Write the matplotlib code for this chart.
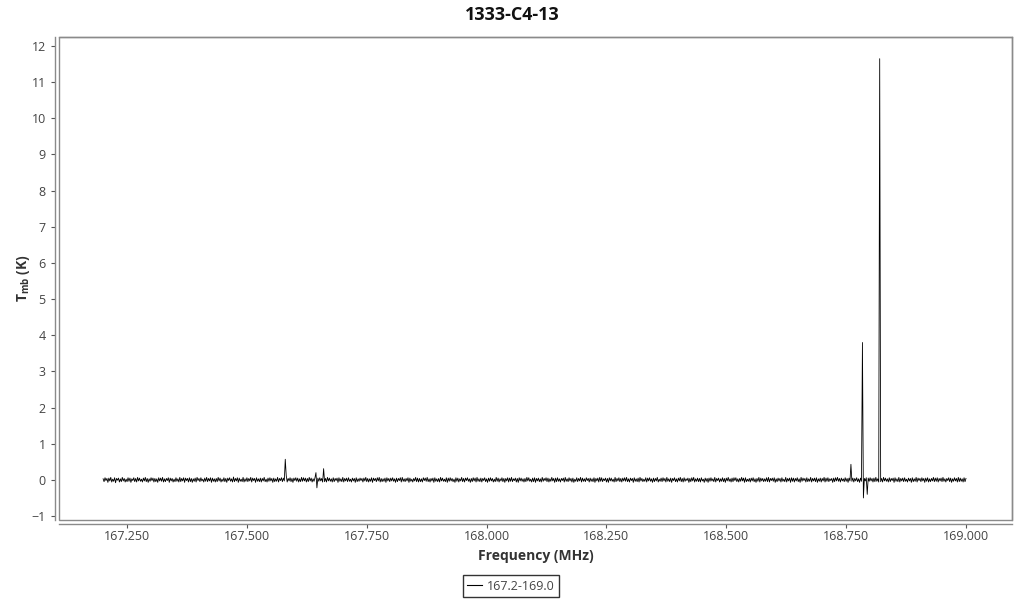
import numpy as np
import matplotlib
matplotlib.use("Agg")
import matplotlib.pyplot as plt
from matplotlib.patches import Rectangle

plt.rcParams['font.family'] = ['Open Sans', 'DejaVu Sans']
plt.rcParams['mathtext.fontset'] = 'custom'
plt.rcParams['mathtext.rm'] = 'Open Sans'
plt.rcParams['mathtext.bf'] = 'Open Sans:bold'

title = "1333-C4-13"
series_label = "167.2-169.0"
freq_start, freq_stop = 167.2, 169.0

# brightness temperature per channel, in hundredths of a kelvin
tmb_cK = [
    3, -5, 6, -2, 4, -7, 5, -3, 7, -6, 2, -4, 6, -8, 4, -1, 5, -6, 3, -5, 7, -3, 4, -6, 2, -5, 6, -4, 5, -7,
    3, -2, 6, -5, 4, -6, 7, -3, 5, -4, 2, -6, 5, -3, 7, -5, 4, -7, 3, -4, 6, -2, 5, -6, 4, -5, 3, -7, 6, -3,
    5, -4, 7, -6, 3, -5, 4, -2, 6, -7, 5, -3, 4, -6, 2, -5, 6, -4, 3, -6, 7, -5, 4, -3, 6, -7, 5, -2, 4, -6,
    6, -5, 4, -7, 3, -4, 5, -6, 7, -2, 4, -5, 6, -3, 2, -6, 5, -4, 7, -5, 4, -3, 6, -7, 5, -4, 3, -6, 4, -5,
    7, -3, 5, -6, 2, -4, 6, -5, 4, -7, 5, -2, 6, -4, 3, -6, 8, -5, 4, -3, 6, -7, 5, -4, 2, -5, 7, -6, 3, -4,
    6, -5, 4, -3, 7, -6, 5, -2, 4, -7, 6, -4, 3, -5, 5, -6, 4, -3, 7, -5, 2, -6, 5, -4, 6, -3, 4, -7, 5, -5,
    3, -4, 7, -6, 4, -2, 6, -5, 5, -3, 57, 12, -6, 4, -3, 6, -5, 4, -7, 5, -2, 6, -4, 5, -6, 3, -5, 7, -4, 6,
    -3, 5, -6, 4, -5, 7, -3, 5, -6, 3, -4, 6, 20, -22, 5, -4, 6, -3, 4, -6, 31, -5, 4, -6, 7, -3, 5, -4, 3, -6,
    6, -5, 4, -2, 5, -7, 6, -4, 3, -5, 7, -6, 4, -3, 5, -5, 6, -4, 2, -6, 5, -3, 4, -7, 6, -5, 3, -4, 5, -2,
    4, -6, 5, -3, 7, -5, 4, -6, 3, -4, 6, -7, 5, -2, 4, -5, 6, -3, 7, -6, 4, -5, 3, -4, 5, -7, 6, -3, 4, -5,
    5, -3, 6, -4, 3, -7, 5, -5, 4, -2, 6, -6, 7, -4, 3, -5, 4, -3, 6, -7, 5, -4, 2, -6, 4, -3, 7, -5, 5, -6,
    4, -5, 3, -6, 6, -2, 5, -4, 7, -5, 3, -6, 4, -3, 5, -7, 6, -4, 3, -5, 4, -6, 7, -3, 5, -4, 2, -5, 6, -7,
    5, -4, 6, -3, 4, -5, 2, -7, 6, -4, 5, -6, 3, -3, 7, -5, 4, -6, 5, -2, 6, -4, 3, -7, 4, -5, 6, -3, 5, -6,
    7, -4, 3, -5, 5, -6, 4, -2, 6, -5, 3, -7, 5, -4, 6, -3, 4, -6, 2, -5, 7, -4, 5, -6, 3, -3, 6, -5, 4, -7,
    4, -3, 6, -6, 5, -4, 7, -5, 3, -2, 5, -6, 4, -7, 6, -3, 5, -4, 3, -6, 4, -5, 7, -3, 6, -4, 2, -6, 5, -5,
    6, -7, 4, -3, 5, -5, 3, -6, 7, -4, 4, -2, 6, -5, 5, -6, 3, -4, 7, -3, 4, -7, 5, -5, 6, -4, 3, -6, 4, -2,
    5, -6, 7, -4, 3, -5, 6, -3, 4, -6, 5, -7, 2, -4, 6, -5, 4, -3, 7, -6, 5, -4, 3, -5, 6, -2, 4, -6, 5, -4,
    3, -5, 6, -7, 4, -3, 5, -6, 7, -4, 6, -5, 3, -2, 5, -6, 4, -7, 6, -3, 5, -4, 2, -6, 7, -5, 4, -3, 6, -5,
    4, -6, 5, -3, 6, -4, 7, -5, 3, -6, 5, -2, 4, -7, 6, -4, 3, -5, 5, -6, 7, -3, 4, -5, 2, -4, 6, -6, 5, -3,
    6, -4, 3, -7, 5, -5, 4, -3, 7, -6, 2, -4, 5, -5, 6, -3, 4, -6, 7, -4, 3, -5, 5, -7, 4, -2, 6, -5, 3, -6,
    5, -3, 7, -5, 4, -6, 6, -4, 3, -2, 5, -7, 4, -5, 6, -3, 7, -6, 3, -4, 5, -5, 4, -6, 6, -3, 2, -7, 5, -4,
    4, -7, 5, -4, 6, -3, 3, -5, 7, -6, 4, -2, 5, -6, 3, -4, 6, -5, 4, -7, 5, -3, 7, -4, 3, -6, 5, -5, 6, -2,
    6, -5, 3, -6, 4, -4, 7, -3, 5, -7, 6, -5, 2, -4, 4, -6, 5, -3, 6, -5, 3, -7, 4, -4, 7, -6, 5, -3, 4, -5,
    3, -4, 6, -5, 7, -6, 4, -2, 5, -4, 6, -7, 3, -5, 5, -3, 4, -6, 6, -4, 2, -5, 7, -6, 4, -3, 5, -7, 6, -4,
    5, -6, 4, -3, 6, -5, 3, -7, 7, -4, 5, -2, 4, -6, 6, -5, 3, -4, 7, -6, 4, -3, 5, -5, 6, -7, 3, -4, 5, -6,
    4, -3, 7, -6, 5, -4, 6, -5, 3, -2, 4, -7, 5, -5, 6, -3, 7, -4, 4, -6, 5, -3, 3, -5, 6, -4, 4, -7, 5, -3,
    43, -4, 5, -6, 4, -3, 6, -5, 3, -7, 5, -4, 380, -50, 4, -3, 6, -40, 5, -4, 6, -3, 4, -6, 5, -5, 7, -4, 3, -6,
    1165, -5, 4, -6, 7, -3, 5, -4, 3, -6, 6, -5, 4, -2, 5, -7, 6, -4, 3, -5, 7, -6, 4, -3, 5, -5, 6, -4, 2, -6,
    5, -3, 4, -7, 6, -5, 3, -4, 7, -6, 5, -2, 4, -5, 6, -3, 4, -7, 5, -4, 6, -6, 3, -5, 4, -3, 7, -5, 5, -4,
    6, -6, 4, -3, 5, -5, 7, -4, 3, -6, 4, -2, 6, -5, 5, -7, 3, -4, 6, -3, 4, -6, 7, -5, 5, -4, 3, -6, 6, -5,
    4,
]
tmb = np.array(tmb_cK) / 100.0
freq = np.linspace(freq_start, freq_stop, len(tmb))

x_ticks = [167.25, 167.5, 167.75, 168.0, 168.25, 168.5, 168.75, 169.0]
y_ticks = list(range(-1, 13))

fig = plt.figure(figsize=(10.24, 6.0), dpi=100)
ax = fig.add_axes([59/1024, 1-520/600, (1012-59)/1024, (520-37)/600])

line, = ax.plot(freq, tmb, color='black', lw=0.6, label=series_label)

ax.set_xlim(167.108, 169.096)
ax.set_ylim(-1.11, 12.25)
ax.set_xticks(x_ticks)
ax.set_xticklabels([f"{v:.3f}" for v in x_ticks])
ax.set_yticks(y_ticks)

spine_col = '#8a8a8a'
for s in ['top', 'right']:
    ax.spines[s].set_color(spine_col)
    ax.spines[s].set_linewidth(1.0)
for s in ['left', 'bottom']:
    ax.spines[s].set_color(spine_col)
    ax.spines[s].set_linewidth(1.0)
    ax.spines[s].set_position(('outward', 3))
ax.add_patch(Rectangle((0, 0), 1, 1, transform=ax.transAxes, fill=False,
                       edgecolor=spine_col, lw=1.0, clip_on=False))

ax.tick_params(axis='both', colors='#555555', labelcolor='#444444', labelsize=9,
               length=3, width=0.8)
ax.tick_params(axis='x', pad=1.5)

ax.set_xlabel("Frequency (MHz)", fontsize=10, fontweight='bold', color='#333333', labelpad=4)
ax.set_ylabel(r"$\mathbf{T_{mb}}$ (K)", fontsize=10, fontweight='bold', color='#333333', labelpad=0)
fig.text(0.5, 1-15/600, title, ha='center', va='center', fontsize=13, fontweight='bold', color='#111111')

leg = fig.legend(handles=[line], loc='center', bbox_to_anchor=(511/1024, 1-586/600),
                 frameon=True, fancybox=False, fontsize=9, handlelength=1.2,
                 handletextpad=0.4, borderpad=0.35)
leg.get_frame().set_edgecolor('black')
leg.get_frame().set_linewidth(1.0)
for t in leg.get_texts():
    t.set_color('#444444')
for h in leg.legend_handles:
    h.set_linewidth(0.8)

fig.savefig("out.png", dpi=100)
